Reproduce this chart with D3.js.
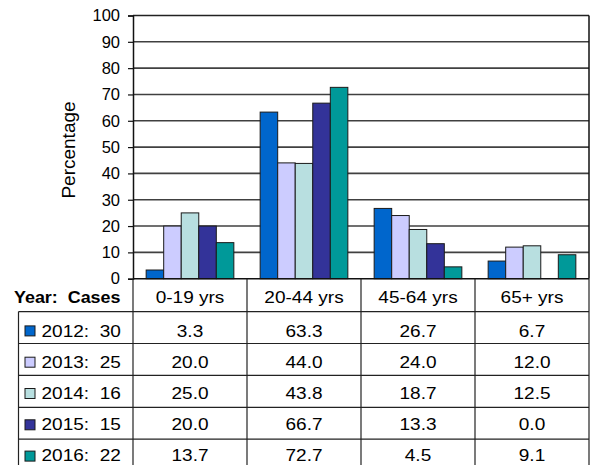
<!DOCTYPE html>
<html>
<head>
<meta charset="utf-8">
<script src="https://cdn.jsdelivr.net/npm/d3@7"></script>
<style>
  html, body { margin: 0; padding: 0; background: #fff; }
  svg { display: block; font-family: "Liberation Sans", Arial, sans-serif; }
  text { white-space: pre; }
</style>
</head>
<body>
<svg id="chart" width="595" height="465"></svg>
<script>
// Age groups along the x axis
const ageGroups = ["0-19 yrs", "20-44 yrs", "45-64 yrs", "65+ yrs"];
// One series per year, with case counts shown in the legend column
const years = ["2012", "2013", "2014", "2015", "2016"];
const cases = [30, 25, 16, 15, 22];
const colors = ["#0066cc", "#ccccff", "#b8dfe0", "#333399", "#009999"];
// Percentage of cases in each age group, per year
const values2012 = [3.3, 63.3, 26.7, 6.7];
const values2013 = [20.0, 44.0, 24.0, 12.0];
const values2014 = [25.0, 43.8, 18.7, 12.5];
const values2015 = [20.0, 66.7, 13.3, 0.0];
const values2016 = [13.7, 72.7, 4.5, 9.1];
const yTicks = [0, 10, 20, 30, 40, 50, 60, 70, 80, 90, 100];

const seriesValues = [values2012, values2013, values2014, values2015, values2016];

const svg = d3.select("#chart");
const plot = { left: 133, right: 589, top: 15.5, bottom: 278.7 };
const tableLeft = 18.5;
const textScale = 1.12;

const x0 = d3.scaleBand().domain(ageGroups).range([plot.left, plot.right]).paddingInner(0).paddingOuter(0);
const x1 = d3.scaleBand().domain(years).range([0, x0.bandwidth()]).paddingInner(0).paddingOuter(0.75);
const y = d3.scaleLinear().domain([0, 100]).range([plot.bottom, plot.top]);

// Horizontal gridlines
svg.append("g")
  .selectAll("line")
  .data(yTicks.filter(d => d > 0))
  .join("line")
  .attr("x1", plot.left).attr("x2", plot.right)
  .attr("y1", d => y(d)).attr("y2", d => y(d))
  .attr("stroke", d => d === 100 ? "#222" : "#404040")
  .attr("stroke-width", 1.6);

// Right edge of the plot area
svg.append("line")
  .attr("x1", plot.right).attr("x2", plot.right)
  .attr("y1", plot.top).attr("y2", plot.bottom)
  .attr("stroke", "#111").attr("stroke-width", 1.5);

// Bars
const groups = svg.append("g")
  .selectAll("g")
  .data(ageGroups)
  .join("g")
  .attr("transform", d => `translate(${x0(d)},0)`);

groups.selectAll("rect")
  .data((g, gi) => years.map((yr, si) => ({ yr, si, v: seriesValues[si][gi] })))
  .join("rect")
  .attr("x", d => x1(d.yr))
  .attr("width", x1.bandwidth())
  .attr("y", d => y(d.v))
  .attr("height", d => y(0) - y(d.v))
  .attr("fill", d => colors[d.si])
  .attr("stroke", "#1a1a1a")
  .attr("stroke-width", d => d.v > 0 ? 1 : 0);

// Y axis
const yAxis = d3.axisLeft(y).tickValues(yTicks).tickSize(5).tickPadding(4).tickFormat(d3.format("d"));
const yAxisG = svg.append("g")
  .attr("transform", `translate(${plot.left},0)`)
  .call(yAxis);
yAxisG.attr("font-size", 16.5).attr("font-family", "'Liberation Sans', Arial, sans-serif");
yAxisG.select(".domain").attr("stroke", "#111").attr("stroke-width", 1.5);
yAxisG.selectAll(".tick line").attr("stroke", "#111").attr("stroke-width", 1.2);
yAxisG.selectAll(".tick text")
  .attr("font-size", 16.5)
  .attr("x", -13)
  .attr("fill", "#000");

// Y axis title
svg.append("text")
  .attr("transform", "translate(75,150) rotate(-90)")
  .attr("text-anchor", "middle")
  .attr("font-size", 19)
  .attr("fill", "#000")
  .text("Percentage");

// Data table below the plot: header row, then one row per year
const headerBottom = 311.6;
const rowStep = 31.9;
const rows = d3.scaleBand().domain(years).range([headerBottom, headerBottom + rowStep * years.length]);
const table = svg.append("g");
const tableBottom = 470;

// Row separators
table.selectAll("line.row")
  .data(years)
  .join("line")
  .attr("class", "row")
  .attr("x1", tableLeft).attr("x2", plot.right)
  .attr("y1", d => rows(d)).attr("y2", d => rows(d))
  .attr("stroke", "#222").attr("stroke-width", 1.2);

// Bottom edge of the plot / top edge of the table header
table.append("line")
  .attr("x1", plot.left).attr("x2", plot.right)
  .attr("y1", plot.bottom).attr("y2", plot.bottom)
  .attr("stroke", "#111").attr("stroke-width", 1.5);

// Column separators
const colEdges = ageGroups.map(g => x0(g)).concat([plot.right]);
table.selectAll("line.col")
  .data(colEdges)
  .join("line")
  .attr("class", "col")
  .attr("x1", d => d).attr("x2", d => d)
  .attr("y1", plot.bottom).attr("y2", tableBottom)
  .attr("stroke", "#222").attr("stroke-width", 1.2);

// Left edge of the legend column
table.append("line")
  .attr("x1", tableLeft).attr("x2", tableLeft)
  .attr("y1", rows(years[0])).attr("y2", tableBottom)
  .attr("stroke", "#222").attr("stroke-width", 1.2);

function scaledText(sel, x, yPos, str, anchor, size, weight) {
  return sel.append("text")
    .attr("transform", `translate(${x},${yPos}) scale(${textScale},1)`)
    .attr("text-anchor", anchor)
    .attr("font-size", size)
    .attr("font-weight", weight || "normal")
    .attr("fill", "#000")
    .text(str);
}

// Header row
const headerBaseline = 303;
scaledText(table, 120.5, headerBaseline, "Year:  Cases", "end", 16, "bold");
ageGroups.forEach(g => {
  scaledText(table, x0(g) + x0.bandwidth() / 2, headerBaseline, g, "middle", 17);
});

// Data rows with legend swatches
years.forEach((yr, si) => {
  const top = rows(yr);
  const baseline = top + 25.3 - si * 0.8;
  table.append("rect")
    .attr("x", 25).attr("y", top + 14.3 - si * 0.6)
    .attr("width", 10).attr("height", 10)
    .attr("fill", colors[si])
    .attr("stroke", "#1a1a1a").attr("stroke-width", 1);
  scaledText(table, 41.5, baseline, `${yr}:  ${cases[si]}`, "start", 17);
  ageGroups.forEach((g, gi) => {
    scaledText(table, x0(g) + x0.bandwidth() / 2, baseline, seriesValues[si][gi].toFixed(1), "middle", 17);
  });
});
</script>
</body>
</html>
